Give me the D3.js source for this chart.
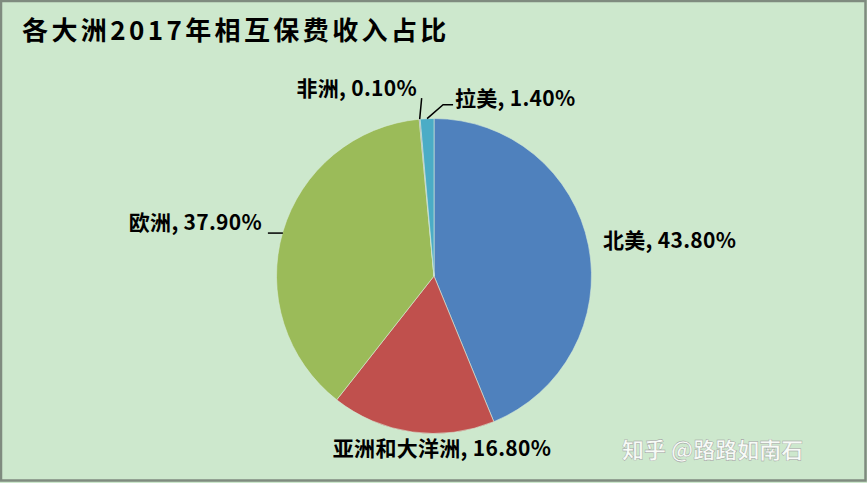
<!DOCTYPE html>
<html><head><meta charset="utf-8">
<script src="https://cdn.jsdelivr.net/npm/d3@7"></script>
<style>
html,body{margin:0;padding:0;background:#cde8cd;}
svg{display:block;}
text{font-family:"Noto Sans CJK SC","Noto Sans",sans-serif;font-weight:bold;}
</style></head>
<body>
<script>
const categories = ["北美", "亚洲和大洋洲", "欧洲", "非洲", "拉美"];
const values = [43.8, 16.8, 37.9, 0.1, 1.4];
const colors = ["#4f81bd", "#c0504d", "#9bbb59", "#8064a2", "#4bacc6"];
const title = "各大洲2017年相互保费收入占比";

const W = 867, H = 483;
const svg = d3.select("body").append("svg").attr("width", W).attr("height", H);

svg.append("rect").attr("x", 1).attr("y", 1).attr("width", W - 2.5).attr("height", H - 3.5)
  .attr("fill", "#cde8cd").attr("stroke", "#7f8b7f").attr("stroke-width", 2.5);

svg.append("text").attr("x", 22).attr("y", 40).attr("font-size", 26)
  .attr("letter-spacing", 3.4).attr("fill", "#000").text(title);

const cx = 434, cy = 276, r = 157.5;
const pie = d3.pie().sort(null).value(d => d);
const arcs = pie(values);
const arc = d3.arc().innerRadius(0).outerRadius(r);
const g = svg.append("g").attr("transform", `translate(${cx},${cy})`);
g.selectAll("path").data(arcs).enter().append("path")
  .attr("d", arc).attr("fill", (d, i) => colors[i])
  .attr("stroke", "#d8ecd8").attr("stroke-width", 0.6);

// label layout (text anchor point relative to center)
const labelPos = [
  {x: 169, y: -28, anchor: "start"},
  {x: 8, y: 180, anchor: "middle"},
  {x: -172, y: -46, anchor: "end"},
  {x: -17, y: -180, anchor: "end"},
  {x: 21, y: -170, anchor: "start"}
];
const fmt = v => v.toFixed(2) + "%";
svg.append("g").selectAll("text").data(arcs).enter().append("text")
  .attr("x", (d, i) => cx + labelPos[i].x)
  .attr("y", (d, i) => cy + labelPos[i].y)
  .attr("text-anchor", (d, i) => labelPos[i].anchor)
  .attr("font-size", 21).attr("letter-spacing", 0.3).attr("fill", "#000")
  .text((d, i) => categories[i] + ", " + fmt(values[i]));

// leader lines from arc edge
const outer = (d, k) => {
  const a = (d.startAngle + d.endAngle) / 2;
  return [cx + Math.sin(a) * r * k, cy - Math.cos(a) * r * k];
};
const lines = [
  {i: 2, pts: d => { const p = outer(d, 1); return [[p[0], p[1] + 1.5], [p[0] - 15, p[1] + 1.5]]; }},
  {i: 3, pts: d => { const p = outer(d, 1); return [p, [p[0] + 2, p[1] - 21]]; }},
  {i: 4, pts: d => { const p = outer(d, 1); return [p, [p[0] + 16, p[1] - 14], [p[0] + 26, p[1] - 14]]; }}
];
lines.forEach(l => {
  svg.append("path").attr("d", d3.line()(l.pts(arcs[l.i])))
    .attr("fill", "none").attr("stroke", "#000").attr("stroke-width", 1.5);
});

// watermark
svg.append("text").attr("x", 622).attr("y", 458).attr("font-size", 22)
  .attr("font-weight", "normal").attr("fill", "#ffffff").attr("fill-opacity", 0.85)
  .attr("stroke", "#999").attr("stroke-width", 0.4)
  .text("知乎 @路路如南石");
</script>
</body></html>
